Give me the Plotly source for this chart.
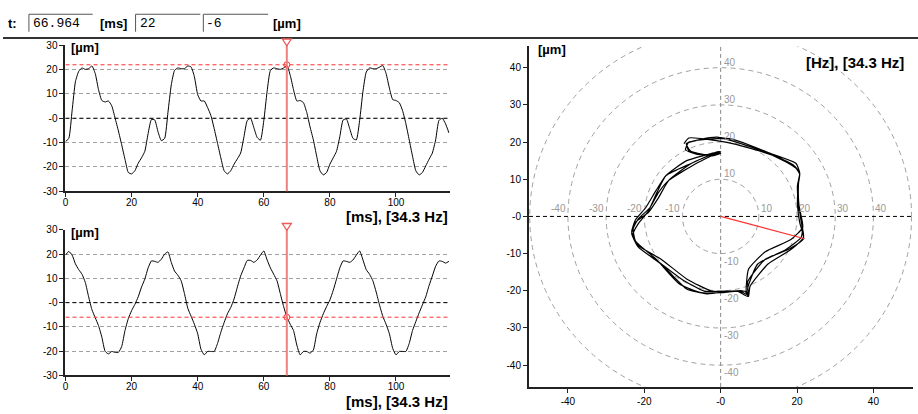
import plotly.graph_objects as go

# ---------------- data ----------------
t_ms = list(range(0, 117))

sig_top = [
    -9.6, -8.3, 3.1, 15.0, 19.3, 20.7, 20.1, 20.4, 21.5, 18.4,
    11.7, 7.3, 6.7, 7.1, 5.1, 0.1, -5.2, -10.9, -16.9, -22.3,
    -22.9, -21.6, -18.5, -16.3, -13.6, -6.3, -0.5, -0.7, -5.6, -9.2,
    -8.3, 2.4, 13.7, 19.7, 20.7, 20.4, 20.4, 21.5, 21.1, 17.1,
    9.7, 7.1, 7.1, 4.4, 1.1, -4.3, -10.3, -16.3, -21.6, -22.9,
    -21.6, -18.9, -16.7, -14.3, -7.6, -0.9, 0.0, -3.9, -7.9, -9.0,
    -1.0, 11.0, 19.7, 20.7, 20.4, 20.1, 20.7, 21.7, 17.7, 11.7,
    7.1, 7.3, 6.4, 2.4, -3.6, -8.9, -15.6, -21.6, -23.3, -22.3,
    -18.9, -16.3, -13.6, -7.6, -0.7, -0.3, -4.3, -8.3, -8.9, -0.9,
    11.0, 19.0, 20.7, 20.4, 20.4, 21.0, 21.7, 18.4, 12.4, 7.7,
    7.3, 6.4, 3.1, -2.3, -8.9, -15.6, -21.6, -23.3, -22.3, -19.6,
    -16.9, -14.3, -8.9, -0.9, 0.0, -2.3, -6.0,
]

sig_bot = [
    19.6, 21.1, 19.6, 16.0, 13.6, 11.7, 8.3, 2.4, -2.9, -6.2,
    -9.5, -14.2, -20.1, -21.1, -20.1, -20.5, -20.5, -18.1, -11.5, -6.6,
    -3.3, -0.7, 2.4, 6.4, 9.7, 14.3, 17.2, 17.0, 16.6, 17.9,
    20.0, 20.9, 16.6, 13.0, 11.3, 9.0, 3.7, -2.3, -5.6, -8.9,
    -12.8, -19.2, -21.5, -20.1, -20.1, -20.1, -16.8, -12.2, -8.2, -4.6,
    -2.0, 1.5, 6.4, 11.0, 14.3, 17.4, 17.4, 16.6, 17.6, 19.6,
    21.3, 17.6, 14.3, 11.7, 9.0, 3.7, -1.6, -6.0, -8.9, -11.5,
    -17.5, -21.5, -20.1, -20.1, -20.8, -19.5, -12.8, -8.2, -4.6, -1.6,
    1.1, 5.0, 9.7, 14.3, 17.2, 17.0, 16.6, 17.6, 19.6, 21.3,
    17.6, 13.6, 11.7, 9.0, 4.4, -0.9, -5.6, -8.9, -12.8, -18.8,
    -21.5, -20.1, -20.1, -20.1, -16.8, -11.5, -7.8, -4.2, -0.9, 2.4,
    7.0, 11.0, 15.0, 17.2, 17.0, 16.3, 17.0,
]

cursor_t = 66.964
cursor_x = 22
cursor_y = -6
cursor_t_text = "66.964"
cursor_x_text = "22"
cursor_y_text = "-6"
time_label = "[ms], [34.3 Hz]"
orbit_label = "[Hz], [34.3 Hz]"
unit_label = "[µm]"

t_range = [0, 116.2]
amp_range = [-30, 30]
amp_ticks = [30, 20, 10, 0, -10, -20, -30]
amp_ticktext = ["30", "20", "10", "-0", "-10", "-20", "-30"]
t_ticks = [0, 20, 40, 60, 80, 100]
t_ticktext = ["0", "20", "40", "60", "80", "100"]

orbit_xrange = [-50.2, 50.3]
orbit_yrange = [-45.85, 45.7]
orbit_yticks = [40, 30, 20, 10, 0, -10, -20, -30, -40]
orbit_yticktext = ["40", "30", "20", "10", "-0", "-10", "-20", "-30", "-40"]
orbit_xticks = [-40, -20, 0, 20, 40]
orbit_xticktext = ["-40", "-20", "-0", "20", "40"]
ring_radii = [10, 20, 30, 40, 50]
ring_labels = [10, 20, 30, 40]

# ---------------- layout helpers ----------------
W, H = 918, 414


def PX(px):
    return px / W


def PY(py):
    return 1 - py / H


FONT = "Liberation Sans, Arial, sans-serif"
TICKFONT = dict(family="Liberation Sans Narrow, Liberation Sans, Arial", size=10, color="#000")
GRID = "#a0a0a0"
DASH = "4px,3px"
CURSOR = "#f08080"
RED = "#ff3030"

fig = go.Figure()

# time signals
fig.add_trace(go.Scatter(x=t_ms, y=sig_top, xaxis="x", yaxis="y", mode="lines",
                         line=dict(color="black", width=1, shape="spline", smoothing=0.5),
                         hoverinfo="skip"))
fig.add_trace(go.Scatter(x=t_ms, y=sig_bot, xaxis="x2", yaxis="y2", mode="lines",
                         line=dict(color="black", width=1, shape="spline", smoothing=0.5),
                         hoverinfo="skip"))
# orbit
fig.add_trace(go.Scatter(x=sig_top, y=sig_bot, xaxis="x3", yaxis="y3", mode="lines",
                         line=dict(color="black", width=1.2, shape="spline", smoothing=0.5),
                         hoverinfo="skip"))
# orbit cursor vector
fig.add_trace(go.Scatter(x=[0, cursor_x], y=[0, cursor_y], xaxis="x3", yaxis="y3", mode="lines",
                         line=dict(color=RED, width=1.2), hoverinfo="skip"))

# cursor markers on time plots
fig.add_trace(go.Scatter(x=[cursor_t], y=[cursor_x], xaxis="x", yaxis="y", mode="markers",
                         marker=dict(symbol="circle-open", size=6, color=RED, line=dict(width=1)),
                         hoverinfo="skip"))
fig.add_trace(go.Scatter(x=[cursor_t], y=[cursor_y], xaxis="x2", yaxis="y2", mode="markers",
                         marker=dict(symbol="circle-open", size=6, color=RED, line=dict(width=1)),
                         hoverinfo="skip"))

top_dom = [PY(190.7), PY(40.5)]
bot_dom = [PY(380.5), PY(230.5)]
x_dom = [PX(62.7), PX(448)]
px_per_ms = (448 - 62.7) / (t_range[1] - t_range[0])


def time_xaxis(anchor):
    return dict(domain=x_dom, range=t_range, anchor=anchor, showline=True, linecolor="#222",
                linewidth=2, ticks="outside", ticklen=4, tickcolor="#222", tickvals=t_ticks,
                ticktext=t_ticktext, tickfont=TICKFONT, showgrid=False, zeroline=False,
                ticklabelstandoff=-3, fixedrange=True)


def amp_yaxis(anchor, dom):
    return dict(domain=dom, range=amp_range, anchor=anchor, showline=True, linecolor="#222",
                linewidth=2, ticks="outside", ticklen=4, tickcolor="#222", tickvals=amp_ticks,
                ticktext=amp_ticktext, tickfont=TICKFONT, showgrid=True, gridcolor=GRID,
                griddash=DASH, gridwidth=1, zeroline=False, fixedrange=True)


shapes = []
annotations = []

# header separator
shapes.append(dict(type="line", xref="paper", yref="paper", x0=0, x1=1, y0=PY(33), y1=PY(33),
                   line=dict(color="#333", width=2)))
# header input boxes (sunken edges)
for x0, x1 in [(26, 90), (133, 198), (201, 266)]:
    shapes.append(dict(type="line", xref="paper", yref="paper", x0=PX(x0), x1=PX(x1),
                       y0=PY(8.5), y1=PY(8.5), line=dict(color="#555", width=1)))
    shapes.append(dict(type="line", xref="paper", yref="paper", x0=PX(x0), x1=PX(x0),
                       y0=PY(8.5), y1=PY(26.5), line=dict(color="#555", width=1)))

hdr = [("<b>t:</b>", 3, FONT, 13), (cursor_t_text, 28, "Liberation Mono, monospace", 13),
       ("<b>[ms]</b>", 95, FONT, 13), (cursor_x_text, 135, "Liberation Mono, monospace", 13),
       (cursor_y_text, 202, "Liberation Mono, monospace", 13), ("<b>" + unit_label + "</b>", 269, FONT, 13)]
for txt, x, fam, sz in hdr:
    annotations.append(dict(text=txt, xref="paper", yref="paper", x=PX(x), y=PY(18.5),
                            xanchor="left", yanchor="middle", showarrow=False,
                            font=dict(family=fam, size=sz, color="#000")))

# time-plot decorations
hw = 4.5 / px_per_ms
for xa, ya, dom, val, unit_y, lbl_y in [("x", "y", top_dom, cursor_x, 43, 217),
                                        ("x2", "y2", bot_dom, cursor_y, 233, 407)]:
    # zero line dashed black
    shapes.append(dict(type="line", xref=xa, yref=ya, x0=t_range[0], x1=t_range[1], y0=0, y1=0,
                       line=dict(color="#000", width=1, dash=DASH)))
    # red cursor level
    shapes.append(dict(type="line", xref=xa, yref=ya, x0=t_range[0], x1=t_range[1], y0=val, y1=val,
                       line=dict(color=RED, width=1, dash=DASH)))
    # vertical cursor
    shapes.append(dict(type="line", xref=xa, yref="paper", x0=cursor_t, x1=cursor_t,
                       y0=dom[0], y1=dom[1] + 5 / H,
                       line=dict(color=CURSOR, width=2)))
    # cursor triangle (hollow, pointing down)
    ytop = dom[1] + 6.5 / H
    ybot = dom[1] - 0.5 / H
    shapes.append(dict(type="path", xref=xa, yref="paper",
                       path=f"M {cursor_t - hw} {ytop} L {cursor_t + hw} {ytop} L {cursor_t} {ybot} Z",
                       line=dict(color="#f05a5a", width=1.3), fillcolor="white"))
    annotations.append(dict(text="<b>" + unit_label + "</b>", xref="paper", yref="paper",
                            x=PX(66), y=PY(unit_y), xanchor="left", yanchor="middle", showarrow=False,
                            font=dict(family=FONT, size=13, color="#000")))
    annotations.append(dict(text="<b>" + time_label + "</b>", xref="paper", yref="paper",
                            x=PX(448), y=PY(lbl_y), xanchor="right", yanchor="middle", showarrow=False,
                            font=dict(family=FONT, size=15, color="#000")))

# orbit decorations
for r in ring_radii:
    shapes.append(dict(type="circle", xref="x3", yref="y3", x0=-r, x1=r, y0=-r, y1=r,
                       line=dict(color=GRID, width=1, dash="5px,4px"), layer="below"))
shapes.append(dict(type="line", xref="x3", yref="y3", x0=orbit_xrange[0], x1=orbit_xrange[1], y0=0, y1=0,
                   line=dict(color="#000", width=1, dash=DASH), layer="below"))
shapes.append(dict(type="line", xref="x3", yref="y3", x0=0, x1=0, y0=orbit_yrange[0], y1=orbit_yrange[1],
                   line=dict(color="#888", width=1, dash=DASH), layer="below"))

GRAYFONT = dict(family=FONT, size=10, color="#999")
for r in ring_labels:
    annotations.append(dict(text=str(r), xref="x3", yref="y3", x=0, y=r, xanchor="left", yanchor="bottom",
                            xshift=1, yshift=-2, showarrow=False, font=GRAYFONT))
    annotations.append(dict(text="-" + str(r), xref="x3", yref="y3", x=0, y=-r, xanchor="left", yanchor="top",
                            xshift=1, yshift=0, showarrow=False, font=GRAYFONT))
    annotations.append(dict(text=str(r), xref="x3", yref="y3", x=r, y=0, xanchor="left", yanchor="bottom",
                            xshift=0, yshift=0, showarrow=False, font=GRAYFONT))
    annotations.append(dict(text="-" + str(r), xref="x3", yref="y3", x=-r, y=0, xanchor="right",
                            yanchor="bottom", xshift=0, yshift=0, showarrow=False, font=GRAYFONT))

annotations.append(dict(text="<b>" + unit_label + "</b>", xref="paper", yref="paper", x=PX(535), y=PY(45),
                        xanchor="left", yanchor="middle", showarrow=False,
                        font=dict(family=FONT, size=13, color="#000")))
annotations.append(dict(text="<b>" + orbit_label + "</b>", xref="paper", yref="paper", x=PX(906), y=PY(58),
                        xanchor="right", yanchor="middle", showarrow=False,
                        font=dict(family=FONT, size=15, color="#000")))

fig.update_layout(
    width=W, height=H, autosize=False,
    margin=dict(l=0, r=0, t=0, b=0, pad=0),
    paper_bgcolor="white", plot_bgcolor="white",
    showlegend=False,
    xaxis=time_xaxis("y"),
    yaxis=amp_yaxis("x", top_dom),
    xaxis2=time_xaxis("y2"),
    yaxis2=amp_yaxis("x2", bot_dom),
    xaxis3=dict(domain=[PX(527.7), PX(912.7)], range=orbit_xrange, anchor="y3", showline=True,
                linecolor="#222", linewidth=2, ticks="outside", ticklen=4, tickcolor="#222",
                tickvals=orbit_xticks, ticktext=orbit_xticktext, tickfont=TICKFONT,
                showgrid=False, zeroline=False, fixedrange=True),
    yaxis3=dict(domain=[PY(392.3), PY(41.7)], range=orbit_yrange, anchor="x3", showline=True,
                linecolor="#222", linewidth=2, ticks="outside", ticklen=4, tickcolor="#222",
                tickvals=orbit_yticks, ticktext=orbit_yticktext, tickfont=TICKFONT,
                showgrid=False, zeroline=False, fixedrange=True),
    shapes=shapes,
    annotations=annotations,
)

fig.write_html("out.html")
